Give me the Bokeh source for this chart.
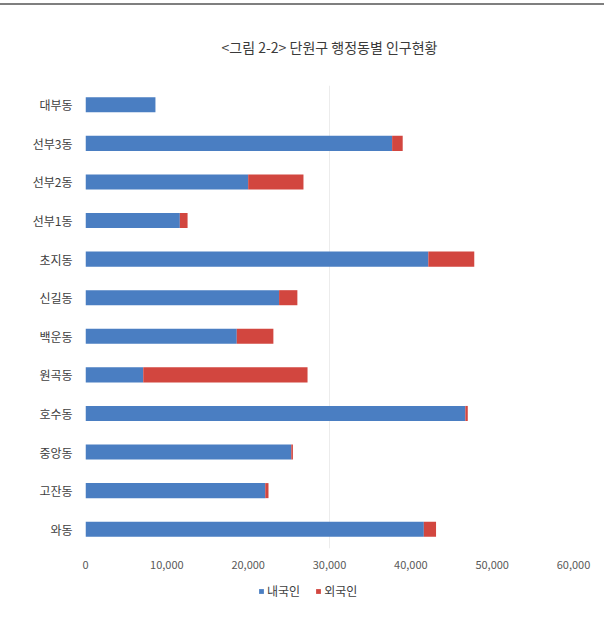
from bokeh.plotting import figure
from bokeh.models import (ColumnDataSource, FactorRange, Range1d, Legend, LegendItem,
                          FixedTicker, NumeralTickFormatter, Div)
from bokeh.layouts import column
from bokeh.embed import file_html
from bokeh.resources import INLINE

dongs = ["대부동", "선부3동", "선부2동", "선부1동", "초지동", "신길동",
         "백운동", "원곡동", "호수동", "중앙동", "고잔동", "와동"]
domestic = [8600, 37700, 20000, 11600, 42150, 23800, 18600, 7100, 46700, 25300, 22100, 41600]
foreign = [0, 1300, 6800, 950, 5650, 2250, 4500, 20200, 300, 200, 400, 1500]
series = ["내국인", "외국인"]
colors = ["#4a7ec2", "#d2463f"]
x_ticks = [0, 10000, 20000, 30000, 40000, 50000, 60000]
title_text = "<그림 2-2> 단원구 행정동별 인구현황"

source = ColumnDataSource(dict(dong=dongs, 내국인=domestic, 외국인=foreign))

FONT = "Noto Sans CJK KR"

p = figure(width=604, height=573, output_backend="svg", toolbar_location=None,
           y_range=FactorRange(factors=list(reversed(dongs))),
           x_range=Range1d(0, 60000),
           min_border_left=85, min_border_right=31, min_border_top=80, min_border_bottom=30)

p.title.text = title_text
p.title.align = "center"
p.title.text_font = FONT
p.title.text_font_size = "14px"
p.title.text_font_style = "normal"
p.title.text_color = "#3a3a3a"
p.title.standoff = 57

rs = p.hbar_stack(series, y="dong", height=0.39, color=colors, source=source, line_width=0)

p.outline_line_color = None
p.background_fill_color = "white"
p.border_fill_color = "white"

p.xaxis.ticker = FixedTicker(ticks=x_ticks)
p.xaxis.formatter = NumeralTickFormatter(format="0,0")
p.xaxis.axis_line_color = None
p.xaxis.major_tick_line_color = None
p.xaxis.minor_tick_line_color = None
p.xaxis.major_label_text_font = FONT
p.xaxis.major_label_text_font_size = "11px"
p.xaxis.major_label_text_color = "#595959"
p.xaxis.major_label_standoff = 6

p.yaxis.axis_line_color = None
p.yaxis.major_tick_line_color = None
p.yaxis.minor_tick_line_color = None
p.yaxis.major_label_text_font = FONT
p.yaxis.major_label_text_font_size = "12px"
p.yaxis.major_label_text_color = "#404040"
p.yaxis.major_label_standoff = 7

p.ygrid.grid_line_color = None
p.xgrid.ticker = FixedTicker(ticks=[30000])
p.xgrid.grid_line_color = "#ececec"

# legend strip below the chart; swatch renderers have zero size and no outline
p2 = figure(width=604, height=41, output_backend="svg", toolbar_location=None,
            x_axis_type=None, y_axis_type=None, min_border=0,
            x_range=Range1d(0, 1), y_range=Range1d(0, 1))
p2.outline_line_color = None
p2.grid.grid_line_color = None
legend_rs = [p2.hbar(y=[-100], left=[0], right=[0], height=0, fill_color=c,
                     line_color=None) for c in colors]
legend = Legend(items=[LegendItem(label=s, renderers=[r]) for s, r in zip(series, legend_rs)],
                orientation="horizontal", location=(173, 20),
                glyph_width=6, glyph_height=6, label_text_font=FONT,
                label_text_font_size="12px", label_text_color="#404040",
                spacing=15, padding=0, margin=0, border_line_color=None,
                label_standoff=3, background_fill_alpha=0)
p2.add_layout(legend)

top_line = Div(width=604, height=2, margin=(3, 0, 0, 0),
               styles={"background-color": "#7f7f7f"})

layout = column(top_line, p, p2, spacing=0)

open("out.html", "w").write(file_html(layout, INLINE))
